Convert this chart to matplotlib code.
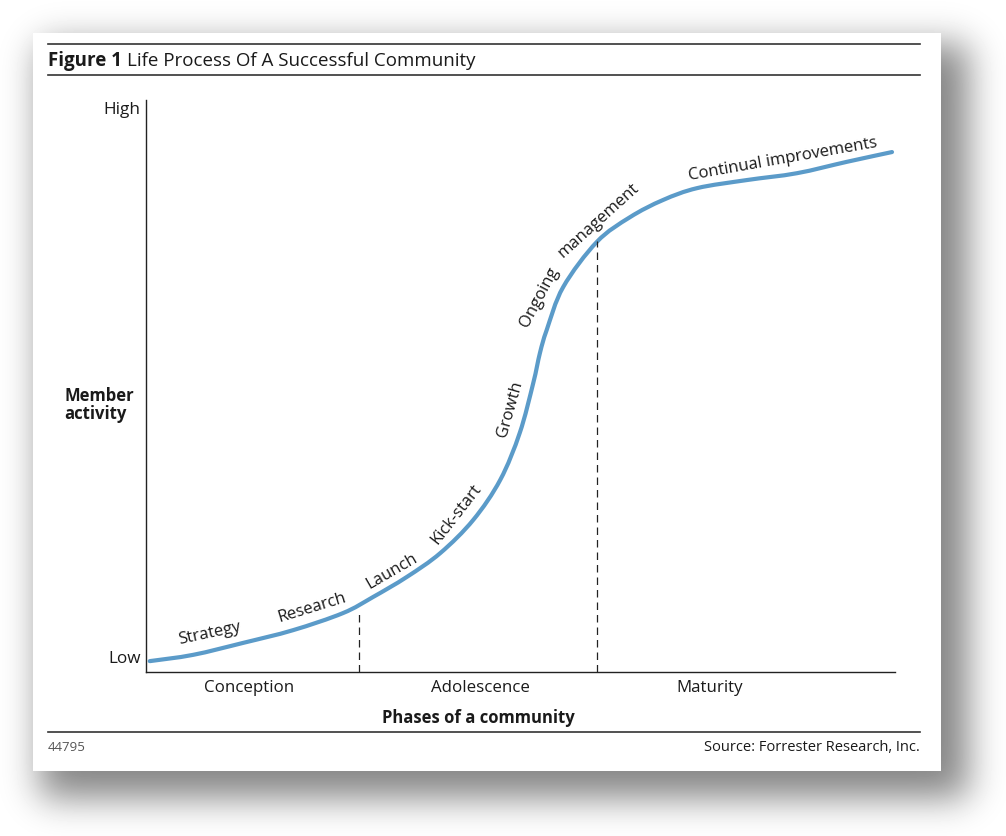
import math
import numpy as np
import matplotlib
matplotlib.use('Agg')
import matplotlib.pyplot as plt
from matplotlib.lines import Line2D
from matplotlib.patches import Rectangle, PathPatch
from matplotlib.path import Path

plt.rcParams['font.family'] = ['Open Sans', 'DejaVu Sans']

# curve: phase time (0-100) vs member activity (0-100)
time_pts = [0.5, 6.3, 13.0, 19.6, 26.3, 30.3, 34.8, 39.3, 43.7, 47.3, 49.9,
            51.7, 52.6, 53.5, 55.7, 60.2, 64.6, 69.0, 73.6, 80.2, 86.9, 93.6, 99.6]
activity = [1.9, 3.0, 5.1, 7.3, 10.3, 13.1, 16.6, 20.8, 26.6, 33.6, 41.8,
            50.5, 55.8, 59.8, 67.3, 75.2, 79.5, 82.5, 84.6, 86.0, 87.2, 89.2, 90.9]

phase_bounds = [28.4, 60.2]
phase_tops = [10.8, 75.3]
phase_names = ['Conception', 'Adolescence', 'Maturity']
phase_centers = [13.7, 44.6, 75.2]

# (label, x, y, rotation) - "Ongoing management" bends with the curve
steps = [('Strategy', 8.5, 6.7, 12),
         ('Research', 22.2, 11.3, 17),
         ('Launch', 32.8, 17.6, 30),
         ('Kick-start', 41.4, 27.6, 52),
         ('Growth', 48.6, 46.0, 74),
         ('Ongoing', 52.45, 65.5, 62),
         ('management', 60.4, 79.0, 42),
         ('Continual improvements', 85.0, 89.6, 10)]

W, H = 1006, 836
fig = plt.figure(figsize=(W / 100, H / 100), dpi=100)


def fx(x):
    return x / W


def fy(y):
    return 1 - y / H


# soft drop shadow behind the card
bg = fig.add_axes([0, 0, 1, 1])
bg.set_axis_off()
erf = np.vectorize(math.erf)
xs = np.arange(W) + 0.5
ys = np.arange(H) + 0.5
sig = 18.0 * 1.414
prof_x = 0.5 * (erf((xs - 40) / sig) - erf((xs - 968) / sig))
prof_y = 0.5 * (erf((ys - 44) / sig) - erf((ys - 798) / sig))
shade = 1 - 0.48 * np.outer(prof_y, prof_x)
bg.imshow(shade, cmap='gray', vmin=0, vmax=1, extent=[0, W, H, 0], aspect='auto')
bg.set_xlim(0, W)
bg.set_ylim(H, 0)
bg.add_patch(Rectangle((33, 33), 908, 738, facecolor='white', edgecolor='none'))

# rules and header / footer text
for y in [44, 75, 732]:
    fig.add_artist(Line2D([fx(48), fx(920)], [fy(y), fy(y)], color='#333333', lw=1.2))

fig.text(fx(48), fy(66), 'Figure 1', fontsize=13.5, fontweight='bold', color='#1a1a1a')
fig.text(fx(127), fy(66), 'Life Process Of A Successful Community', fontsize=13.5,
         color='#1a1a1a')
fig.text(fx(48), fy(751), '44795', fontsize=9.5, color='#555555')
fig.text(fx(920), fy(751), 'Source: Forrester Research, Inc.', fontsize=10.5,
         color='#1a1a1a', ha='right')

ax = fig.add_axes([fx(146), fy(672), 749 / W, 572 / H])
ax.set_facecolor('none')
ax.set_xlim(0, 100)
ax.set_ylim(0, 100)
for s in ['top', 'right']:
    ax.spines[s].set_visible(False)
for s in ['left', 'bottom']:
    ax.spines[s].set_color('#222222')
    ax.spines[s].set_linewidth(1.0)
ax.set_xticks([])
ax.set_yticks([])

# smooth curve through the read points (Catmull-Rom as cubic Bezier)
P = np.column_stack([time_pts, activity])
Pe = np.vstack([P[0], P, P[-1]])
verts = [P[0]]
codes = [Path.MOVETO]
for i in range(1, len(Pe) - 2):
    c1 = Pe[i] + (Pe[i + 1] - Pe[i - 1]) / 6
    c2 = Pe[i + 1] - (Pe[i + 2] - Pe[i]) / 6
    verts += [c1, c2, Pe[i + 1]]
    codes += [Path.CURVE4] * 3
ax.add_patch(PathPatch(Path(verts, codes), facecolor='none', edgecolor='#5b9bc9',
                       lw=3.0, capstyle='round', joinstyle='round'))

for xb, yt in zip(phase_bounds, phase_tops):
    ax.plot([xb, xb], [0, yt], color='#222222', lw=0.9, dashes=(6, 4))

for lab, x, y, rot in steps:
    ax.text(x, y, lab, fontsize=12, rotation=rot, rotation_mode='anchor',
            ha='center', va='center', color='#1a1a1a')

for name, xc in zip(phase_names, phase_centers):
    ax.text(xc, -2.8, name, fontsize=12.2, ha='center', va='center', color='#1a1a1a')

ax.text(-0.7, 98.3, 'High', fontsize=12.3, ha='right', va='center', color='#1a1a1a')
ax.text(-0.7, 2.2, 'Low', fontsize=12.3, ha='right', va='center', color='#1a1a1a')
fig.text(fx(64), fy(405), 'Member\nactivity', fontsize=12, fontweight='bold',
         ha='left', va='center', linespacing=1.05, color='#1a1a1a')
fig.text(fx(478), fy(718), 'Phases of a community', fontsize=12, fontweight='bold',
         ha='center', va='center', color='#1a1a1a')

fig.savefig('out.png', dpi=100)
